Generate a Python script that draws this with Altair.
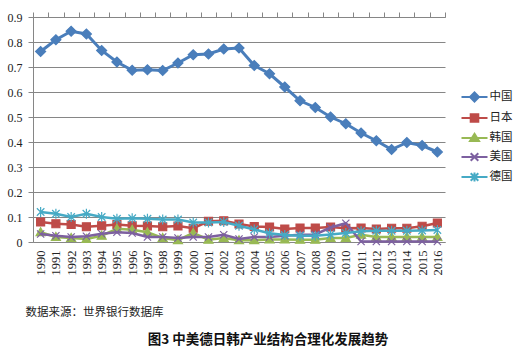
import altair as alt
import pandas as pd

years = list(range(1990, 2017))
names = ["中国", "日本", "韩国", "美国", "德国"]

china = [0.762, 0.809, 0.843, 0.832, 0.766, 0.720, 0.687, 0.689, 0.686, 0.716,
         0.749, 0.752, 0.772, 0.776, 0.706, 0.673, 0.620, 0.565, 0.538, 0.500,
         0.473, 0.436, 0.405, 0.370, 0.398, 0.386, 0.360]
japan = [0.080, 0.073, 0.070, 0.061, 0.065, 0.070, 0.065, 0.064, 0.061, 0.064,
         0.055, 0.083, 0.085, 0.072, 0.062, 0.060, 0.052, 0.056, 0.056, 0.060,
         0.055, 0.056, 0.052, 0.055, 0.055, 0.063, 0.076]
korea = [0.039, 0.020, 0.016, 0.012, 0.025, 0.053, 0.049, 0.039, 0.016, 0.007,
         0.036, 0.009, 0.016, 0.007, 0.007, 0.010, 0.010, 0.009, 0.009, 0.016,
         0.016, 0.029, 0.020, 0.020, 0.020, 0.020, 0.020]
usa = [0.032, 0.025, 0.020, 0.023, 0.033, 0.039, 0.036, 0.020, 0.020, 0.016,
       0.020, 0.020, 0.029, 0.012, 0.020, 0.020, 0.025, 0.029, 0.030, 0.058,
       0.075, 0.002, 0.002, 0.002, 0.002, 0.002, 0.002]
germany = [0.120, 0.113, 0.100, 0.113, 0.100, 0.093, 0.095, 0.093, 0.090, 0.090,
           0.078, 0.078, 0.080, 0.065, 0.050, 0.035, 0.028, 0.025, 0.025, 0.030,
           0.036, 0.043, 0.045, 0.045, 0.045, 0.046, 0.048]

colors = ["#4A7EBB", "#BE4B48", "#98B954", "#7D60A0", "#46AAC5"]
line_widths = [3, 2.5, 2.5, 2.5, 2.5]
marker_sizes = [100, 64, 81, 81, 100]
marker_paths = [
    "M-1,0L0,-1L1,0L0,1Z",
    "M-1,-1L1,-1L1,1L-1,1Z",
    "M0,-1L1,0.75L-1,0.75Z",
    "M-0.8,-0.8L0.8,0.8M-0.8,0.8L0.8,-0.8",
    "M-0.75,-0.75L0.75,0.75M-0.75,0.75L0.75,-0.75M0,-1L0,1",
]
legend_paths = [
    "M-1.3,0L1.3,0M-0.45,0L0,-0.45L0.45,0L0,0.45Z",
    "M-1.3,0L1.3,0M-0.38,-0.38L0.38,-0.38L0.38,0.38L-0.38,0.38Z",
    "M-1.3,0L1.3,0M0,-0.42L0.45,0.3L-0.45,0.3Z",
    "M-1.3,0L1.3,0M-0.38,-0.38L0.38,0.38M-0.38,0.38L0.38,-0.38",
    "M-1.3,0L1.3,0M-0.38,-0.38L0.38,0.38M-0.38,0.38L0.38,-0.38M0,-0.45L0,0.45",
]

series_values = [china, japan, korea, usa, germany]
rows = []
for name, vals in zip(names, series_values):
    for yr, v in zip(years, vals):
        rows.append({"year": yr, "series": name, "value": v})
df = pd.DataFrame(rows)

xscale = alt.Scale(domain=[1989.5, 2016.5], nice=False, zero=False)
yscale = alt.Scale(domain=[0, 0.9], nice=False)
grey = "#868686"

x_lab = alt.X(
    "year:Q", scale=xscale,
    axis=alt.Axis(
        values=years, format="d", labelAngle=-90, ticks=False, grid=False,
        domainColor=grey, labelFont="Liberation Serif", labelFontSize=12.5,
        labelColor="#222222", labelPadding=8,
        title="数据来源：世界银行数据库", titleFont="Noto Sans CJK SC",
        titleFontSize=11.5, titleFontWeight="normal", titleAlign="left",
        titleAnchor="start", titleX=-8, titleY=73, titleBaseline="alphabetic",
        titleColor="#222222",
    ),
)
x_tick = alt.X(
    "year:Q", scale=xscale,
    axis=alt.Axis(
        values=[1989.5 + i for i in range(28)], labels=False, ticks=True,
        tickSize=5, tickColor=grey, grid=False, domainColor=grey, title=None,
    ),
)
x_none = alt.X("year:Q", scale=xscale, axis=None)
y_enc = alt.Y(
    "value:Q", scale=yscale,
    axis=alt.Axis(
        values=[0, 0.1, 0.2, 0.3, 0.4, 0.5, 0.6, 0.7, 0.8, 0.9],
        labelExpr="datum.value == 0 ? '0' : format(datum.value, '.1f')",
        grid=True, gridColor=grey, ticks=True, tickSize=5, tickColor=grey,
        domainColor=grey, labelFont="Liberation Serif", labelFontSize=12,
        labelColor="#222222", labelPadding=6, title=None,
    ),
)

layers = []
for i, name in enumerate(names):
    base = alt.Chart(df).transform_filter(alt.datum.series == name)
    line = base.mark_line(color=colors[i], strokeWidth=line_widths[i]).encode(
        x=x_lab if i == 0 else x_none, y=y_enc
    )
    pts = base.mark_point(
        shape=marker_paths[i], filled=True, fill=colors[i], stroke=colors[i],
        strokeWidth=1.2, size=marker_sizes[i], opacity=1,
    ).encode(x=x_none, y=y_enc)
    layers += [line, pts]

leg = alt.Legend(
    title=None, orient="none", legendX=430.5, legendY=69, symbolSize=400,
    symbolStrokeWidth=2, symbolOpacity=1, labelFont="Noto Sans CJK SC",
    labelFontSize=11.5, labelColor="#222222", rowPadding=1, padding=0,
    labelOffset=4,
)
legend_layer = alt.Chart(df).mark_point(filled=True, opacity=0, strokeWidth=2).encode(
    x=x_tick, y=y_enc,
    shape=alt.Shape("series:N", scale=alt.Scale(domain=names, range=legend_paths), legend=leg),
    fill=alt.Fill("series:N", scale=alt.Scale(domain=names, range=colors), legend=leg),
    stroke=alt.Stroke("series:N", scale=alt.Scale(domain=names, range=colors), legend=leg),
)
layers.append(legend_layer)

chart = alt.layer(*layers).resolve_axis(x="independent").properties(
    width=412, height=225,
    padding={"left": 33, "top": 17, "right": 79, "bottom": 112},
    autosize=alt.AutoSizeParams(type="none"),
    background="white",
    title=alt.TitleParams(
        text="图3 中美德日韩产业结构合理化发展趋势", orient="bottom",
        anchor="middle", frame="group", offset=15, dx=29,
        font="Noto Sans CJK SC", fontSize=13.5, fontWeight="bold",
        color="#111111", baseline="top",
    ),
).configure_view(strokeWidth=0)

chart.save("out.html", embed_options={"renderer": "svg", "actions": False})
